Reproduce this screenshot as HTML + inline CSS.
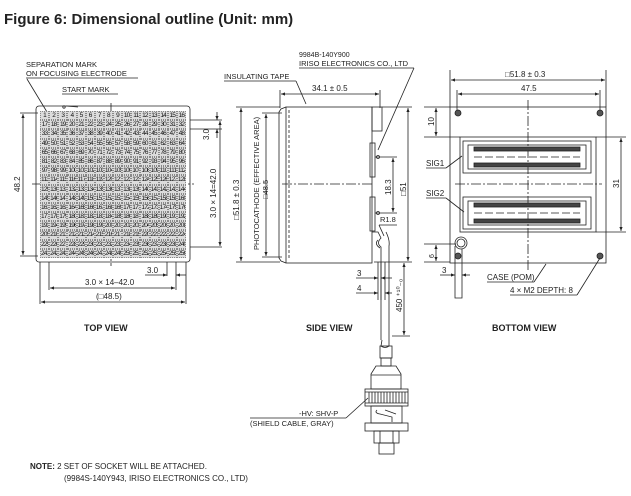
<!DOCTYPE html>
<html><head><meta charset="utf-8"><style>
body{margin:0;background:#fff;width:631px;height:496px;overflow:hidden;position:relative;font-family:"Liberation Sans",Arial,sans-serif}
svg{position:absolute;left:0;top:0}
svg text{font-family:"Liberation Sans",Arial,sans-serif;fill:#222}
#grid{position:absolute;left:40px;top:111px;width:146px;height:147px;display:grid;grid-template-columns:repeat(16,1fr);grid-template-rows:repeat(16,1fr);background:#dcdcdc}
#grid span{border:0.5px dotted #888;font-size:6.5px;line-height:8.5px;text-align:center;color:#111;letter-spacing:-0.8px;overflow:hidden;white-space:nowrap}
</style></head><body>
<svg width="631" height="496" viewBox="0 0 631 496" stroke="#222" fill="none" stroke-width="0.8">
<defs><marker id="a" markerWidth="6" markerHeight="6" refX="5" refY="3" orient="auto-start-reverse"><path d="M0,1 L5,3 L0,5z" fill="#222" stroke="none"/></marker></defs>
<text x="4" y="24" font-size="15" font-weight="bold" stroke="none">Figure 6: Dimensional outline (Unit: mm)</text>

<!-- TOP VIEW -->
<text x="26" y="67" font-size="7.5" stroke="none">SEPARATION MARK</text>
<text x="26" y="76" font-size="7.5" stroke="none">ON FOCUSING ELECTRODE</text>
<line x1="26" y1="78" x2="138" y2="78"/>
<line x1="27" y1="79" x2="47" y2="112"/>
<text x="62" y="92" font-size="7.5" stroke="none">START MARK</text>
<line x1="62" y1="94" x2="118" y2="94"/>
<line x1="66" y1="106" x2="78" y2="107"/><circle cx="64" cy="107" r="1.2"/>
<rect x="36" y="106" width="154" height="156" rx="3"/>
<line x1="111" y1="103" x2="111" y2="266" stroke-dasharray="10,2,2,2"/>
<line x1="32" y1="184" x2="194" y2="184" stroke-dasharray="10,2,2,2"/>
<line x1="20" y1="113" x2="38" y2="113"/><line x1="20" y1="256" x2="38" y2="256"/>
<line x1="23" y1="114" x2="23" y2="255" marker-start="url(#a)" marker-end="url(#a)"/>
<text transform="translate(20,192) rotate(-90)" font-size="8" stroke="none">48.2</text>
<line x1="190" y1="120" x2="222" y2="120"/><line x1="190" y1="129" x2="222" y2="129"/><line x1="190" y1="247" x2="222" y2="247"/>
<line x1="217" y1="112" x2="217" y2="120" marker-end="url(#a)"/><line x1="217" y1="138" x2="217" y2="129" marker-end="url(#a)"/>
<text transform="translate(209,140) rotate(-90)" font-size="8" stroke="none">3.0</text>
<line x1="220" y1="121" x2="220" y2="246" marker-start="url(#a)" marker-end="url(#a)"/>
<text transform="translate(216,218) rotate(-90)" font-size="8" stroke="none">3.0 × 14=42.0</text>
<line x1="49" y1="262" x2="49" y2="290"/><line x1="176" y1="262" x2="176" y2="290"/><line x1="167" y1="262" x2="167" y2="276"/>
<line x1="40" y1="262" x2="40" y2="304"/><line x1="186" y1="262" x2="186" y2="304"/>
<text x="147" y="273" font-size="8" stroke="none">3.0</text>
<line x1="145" y1="275" x2="167" y2="275" marker-end="url(#a)"/><line x1="186" y1="275" x2="176" y2="275" marker-end="url(#a)"/>
<line x1="50" y1="288" x2="175" y2="288" marker-start="url(#a)" marker-end="url(#a)"/>
<text x="85" y="285" font-size="8" stroke="none">3.0 × 14–42.0</text>
<text x="96" y="299" font-size="8" stroke="none">(□48.5)</text>
<line x1="41" y1="302" x2="185" y2="302" marker-start="url(#a)" marker-end="url(#a)"/>
<text x="84" y="331" font-size="9" font-weight="bold" stroke="none">TOP VIEW</text>

<!-- SIDE VIEW -->
<text x="299" y="57" font-size="7" stroke="none">9984B-140Y900</text>
<text x="299" y="66" font-size="7.5" stroke="none">IRISO ELECTRONICS CO., LTD</text>
<line x1="299" y1="68" x2="414" y2="68"/><line x1="414" y1="68" x2="378" y2="150"/>
<text x="224" y="79" font-size="7.5" stroke="none">INSULATING TAPE</text>
<line x1="224" y1="81" x2="296" y2="81"/><line x1="296" y1="81" x2="306" y2="104"/>
<line x1="280" y1="90" x2="280" y2="108"/><line x1="380" y1="90" x2="380" y2="108"/>
<line x1="281" y1="94" x2="379" y2="94" marker-start="url(#a)" marker-end="url(#a)"/>
<text x="312" y="91" font-size="8" stroke="none">34.1 ± 0.5</text>
<rect x="286" y="107" width="86" height="156"/>
<path d="M286,107 L281,109 L279,112 L279,258 L281,261 L286,263"/>
<line x1="289" y1="110" x2="289" y2="260" stroke-dasharray="3,2"/>
<line x1="282" y1="184" x2="372" y2="184" stroke-dasharray="10,2,2,2"/>
<rect x="372" y="107" width="10" height="24"/>
<rect x="370" y="143" width="5" height="34"/><rect x="370" y="197" width="5" height="34"/>
<line x1="375" y1="157" x2="397" y2="157"/><line x1="375" y1="213" x2="397" y2="213"/>
<circle cx="378" cy="157" r="1.5"/><circle cx="378" cy="213" r="1.5"/>
<line x1="393" y1="158" x2="393" y2="212" marker-start="url(#a)" marker-end="url(#a)"/>
<text transform="translate(391,195) rotate(-90)" font-size="8" stroke="none">18.3</text>
<line x1="382" y1="107" x2="412" y2="107"/><line x1="374" y1="262" x2="412" y2="262"/>
<line x1="408" y1="108" x2="408" y2="261" marker-start="url(#a)" marker-end="url(#a)"/>
<text transform="translate(406,196) rotate(-90)" font-size="8" stroke="none">□51</text>
<text x="380" y="222" font-size="7.5" stroke="none">R1.8</text>
<line x1="379" y1="225" x2="397" y2="225"/><line x1="379" y1="225" x2="384" y2="236"/>
<path d="M372,232 L378,232 L381,238 Q376,243 381,247 L381,340 M386,232 Q390,240 389,246 L389,340"/>
<path d="M378,240 Q374,244 380,248"/>
<line x1="236" y1="107" x2="280" y2="107"/><line x1="236" y1="262" x2="280" y2="262"/>
<line x1="241" y1="108" x2="241" y2="261" marker-start="url(#a)" marker-end="url(#a)"/>
<text transform="translate(239,220) rotate(-90)" font-size="8" stroke="none">□51.8 ± 0.3</text>
<line x1="262" y1="113" x2="282" y2="113"/><line x1="262" y1="257" x2="282" y2="257"/>
<line x1="266" y1="114" x2="266" y2="256" marker-start="url(#a)" marker-end="url(#a)"/>
<text transform="translate(259,250) rotate(-90)" font-size="7.5" stroke="none">PHOTOCATHODE (EFFECTIVE AREA)</text>
<text transform="translate(268,199) rotate(-90)" font-size="7.5" stroke="none">□48.5</text>
<line x1="378" y1="262" x2="378" y2="300"/><line x1="381" y1="262" x2="381" y2="300"/><line x1="385" y1="262" x2="385" y2="300"/>
<text x="357" y="276" font-size="8" stroke="none">3</text>
<line x1="356" y1="278" x2="378" y2="278" marker-end="url(#a)"/><line x1="392" y1="278" x2="381" y2="278" marker-end="url(#a)"/>
<text x="357" y="291" font-size="8" stroke="none">4</text>
<line x1="356" y1="293" x2="378" y2="293" marker-end="url(#a)"/><line x1="392" y1="293" x2="385" y2="293" marker-end="url(#a)"/>
<line x1="404" y1="263" x2="404" y2="335" marker-start="url(#a)" marker-end="url(#a)"/><line x1="392" y1="336" x2="410" y2="336"/>
<text transform="translate(402,312) rotate(-90)" font-size="8" stroke="none">450 ⁺¹⁰₋₀</text>
<text x="306" y="331" font-size="9" font-weight="bold" stroke="none">SIDE VIEW</text>
<path d="M382,340 L381,346 Q385,349 389,346 L389,340"/>
<rect x="380" y="346" width="12" height="12"/><rect x="381" y="358" width="10" height="8"/>
<path d="M376,366 L396,366 L401,374 L401,389 L371,389 L371,374 Z"/><line x1="371" y1="375" x2="401" y2="375"/>
<rect x="365" y="389" width="43" height="17"/>
<path d="M369,392 v11 M372,392 v11 M375,392 v11 M378,392 v11 M381,392 v11 M384,392 v11 M387,392 v11 M390,392 v11 M393,392 v11 M396,392 v11 M399,392 v11 M402,392 v11 M405,392 v11"/>
<line x1="365" y1="392" x2="408" y2="392"/><line x1="365" y1="403" x2="408" y2="403"/>
<rect x="371" y="406" width="31" height="17"/>
<path d="M377,410 Q374,413 380,414 L392,417 L392,422 M385,410 L396,414"/>
<rect x="365" y="423" width="43" height="8"/>
<rect x="374" y="431" width="25" height="12"/><rect x="379" y="443" width="15" height="11"/>
<line x1="380" y1="431" x2="380" y2="443"/><line x1="393" y1="431" x2="393" y2="443"/>
<text x="299" y="416" font-size="7.5" stroke="none">-HV: SHV-P</text>
<text x="250" y="426" font-size="7.5" stroke="none">(SHIELD CABLE, GRAY)</text>
<line x1="250" y1="418" x2="346" y2="418"/><line x1="346" y1="418" x2="368" y2="398"/>

<!-- BOTTOM VIEW -->
<line x1="450" y1="70" x2="450" y2="107"/><line x1="606" y1="70" x2="606" y2="107"/>
<line x1="451" y1="80" x2="605" y2="80" marker-start="url(#a)" marker-end="url(#a)"/>
<text x="505" y="77" font-size="8" stroke="none">□51.8 ± 0.3</text>
<line x1="457" y1="90" x2="457" y2="112"/><line x1="600" y1="90" x2="600" y2="112"/>
<line x1="458" y1="94" x2="599" y2="94" marker-start="url(#a)" marker-end="url(#a)"/>
<text x="521" y="91" font-size="8" stroke="none">47.5</text>
<rect x="450" y="107" width="156" height="156"/>
<line x1="528" y1="100" x2="528" y2="270" stroke-dasharray="10,2,2,2"/>
<line x1="455" y1="184" x2="602" y2="184" stroke-dasharray="10,2,2,2"/>
<g fill="#555"><circle cx="458" cy="113" r="3"/><circle cx="600" cy="113" r="3"/><circle cx="600" cy="256" r="3"/><circle cx="458" cy="256" r="3"/></g>
<rect x="460" y="137" width="136" height="95"/>
<rect x="463" y="141" width="128" height="32"/><rect x="463" y="197" width="128" height="32"/>
<rect x="468" y="145" width="118" height="24"/><rect x="468" y="201" width="118" height="24"/>
<rect x="474" y="147" width="106" height="4" fill="#444"/><rect x="474" y="163" width="106" height="4" fill="#444"/>
<rect x="474" y="203" width="106" height="4" fill="#444"/><rect x="474" y="219" width="106" height="4" fill="#444"/>
<line x1="474" y1="157" x2="580" y2="157" stroke-dasharray="8,3"/><line x1="474" y1="213" x2="580" y2="213" stroke-dasharray="8,3"/>
<line x1="424" y1="107" x2="450" y2="107"/><line x1="424" y1="137" x2="460" y2="137"/>
<line x1="436" y1="108" x2="436" y2="136" marker-start="url(#a)" marker-end="url(#a)"/>
<text transform="translate(434,126) rotate(-90)" font-size="8" stroke="none">10</text>
<line x1="596" y1="137" x2="626" y2="137"/><line x1="596" y1="232" x2="626" y2="232"/>
<line x1="621" y1="138" x2="621" y2="231" marker-start="url(#a)" marker-end="url(#a)"/>
<text transform="translate(619,188) rotate(-90)" font-size="8" stroke="none">31</text>
<text x="426" y="166" font-size="8" stroke="none">SIG1</text><line x1="426" y1="168" x2="446" y2="168"/><line x1="446" y1="168" x2="462" y2="156"/>
<text x="426" y="196" font-size="8" stroke="none">SIG2</text><line x1="426" y1="198" x2="446" y2="198"/><line x1="446" y1="198" x2="464" y2="212"/>
<circle cx="461" cy="243" r="6"/><circle cx="461" cy="243" r="4"/>
<path d="M455,246 L455,298 L462,298 L462,249"/>
<line x1="424" y1="244" x2="456" y2="244"/><line x1="424" y1="262" x2="450" y2="262"/>
<line x1="436" y1="245" x2="436" y2="261" marker-start="url(#a)" marker-end="url(#a)"/>
<text transform="translate(434,258) rotate(-90)" font-size="7" stroke="none">6</text>
<text x="442" y="273" font-size="8" stroke="none">3</text>
<line x1="440" y1="275" x2="455" y2="275" marker-end="url(#a)"/><line x1="470" y1="275" x2="462" y2="275" marker-end="url(#a)"/>
<text x="487" y="280" font-size="8" stroke="none">CASE (POM)</text><line x1="487" y1="282" x2="534" y2="282"/><line x1="534" y1="282" x2="546" y2="264"/>
<text x="510" y="293" font-size="8" stroke="none">4 × M2 DEPTH: 8</text><line x1="510" y1="295" x2="577" y2="295"/><line x1="577" y1="295" x2="600" y2="258"/>
<text x="492" y="331" font-size="9" font-weight="bold" stroke="none">BOTTOM VIEW</text>

<text x="30" y="469" font-size="8" stroke="none"><tspan font-weight="bold">NOTE:</tspan> 2 SET OF SOCKET WILL BE ATTACHED.</text>
<text x="64" y="481" font-size="8" stroke="none">(9984S-140Y943, IRISO ELECTRONICS CO., LTD)</text>
</svg>
<div id="grid">
<span>1</span><span>2</span><span>3</span><span>4</span><span>5</span><span>6</span><span>7</span><span>8</span><span>9</span><span>10</span><span>11</span><span>12</span><span>13</span><span>14</span><span>15</span><span>16</span>
<span>17</span><span>18</span><span>19</span><span>20</span><span>21</span><span>22</span><span>23</span><span>24</span><span>25</span><span>26</span><span>27</span><span>28</span><span>29</span><span>30</span><span>31</span><span>32</span>
<span>33</span><span>34</span><span>35</span><span>36</span><span>37</span><span>38</span><span>39</span><span>40</span><span>41</span><span>42</span><span>43</span><span>44</span><span>45</span><span>46</span><span>47</span><span>48</span>
<span>49</span><span>50</span><span>51</span><span>52</span><span>53</span><span>54</span><span>55</span><span>56</span><span>57</span><span>58</span><span>59</span><span>60</span><span>61</span><span>62</span><span>63</span><span>64</span>
<span>65</span><span>66</span><span>67</span><span>68</span><span>69</span><span>70</span><span>71</span><span>72</span><span>73</span><span>74</span><span>75</span><span>76</span><span>77</span><span>78</span><span>79</span><span>80</span>
<span>81</span><span>82</span><span>83</span><span>84</span><span>85</span><span>86</span><span>87</span><span>88</span><span>89</span><span>90</span><span>91</span><span>92</span><span>93</span><span>94</span><span>95</span><span>96</span>
<span>97</span><span>98</span><span>99</span><span>100</span><span>101</span><span>102</span><span>103</span><span>104</span><span>105</span><span>106</span><span>107</span><span>108</span><span>109</span><span>110</span><span>111</span><span>112</span>
<span>113</span><span>114</span><span>115</span><span>116</span><span>117</span><span>118</span><span>119</span><span>120</span><span>121</span><span>122</span><span>123</span><span>124</span><span>125</span><span>126</span><span>127</span><span>128</span>
<span>129</span><span>130</span><span>131</span><span>132</span><span>133</span><span>134</span><span>135</span><span>136</span><span>137</span><span>138</span><span>139</span><span>140</span><span>141</span><span>142</span><span>143</span><span>144</span>
<span>145</span><span>146</span><span>147</span><span>148</span><span>149</span><span>150</span><span>151</span><span>152</span><span>153</span><span>154</span><span>155</span><span>156</span><span>157</span><span>158</span><span>159</span><span>160</span>
<span>161</span><span>162</span><span>163</span><span>164</span><span>165</span><span>166</span><span>167</span><span>168</span><span>169</span><span>170</span><span>171</span><span>172</span><span>173</span><span>174</span><span>175</span><span>176</span>
<span>177</span><span>178</span><span>179</span><span>180</span><span>181</span><span>182</span><span>183</span><span>184</span><span>185</span><span>186</span><span>187</span><span>188</span><span>189</span><span>190</span><span>191</span><span>192</span>
<span>193</span><span>194</span><span>195</span><span>196</span><span>197</span><span>198</span><span>199</span><span>200</span><span>201</span><span>202</span><span>203</span><span>204</span><span>205</span><span>206</span><span>207</span><span>208</span>
<span>209</span><span>210</span><span>211</span><span>212</span><span>213</span><span>214</span><span>215</span><span>216</span><span>217</span><span>218</span><span>219</span><span>220</span><span>221</span><span>222</span><span>223</span><span>224</span>
<span>225</span><span>226</span><span>227</span><span>228</span><span>229</span><span>230</span><span>231</span><span>232</span><span>233</span><span>234</span><span>235</span><span>236</span><span>237</span><span>238</span><span>239</span><span>240</span>
<span>241</span><span>242</span><span>243</span><span>244</span><span>245</span><span>246</span><span>247</span><span>248</span><span>249</span><span>250</span><span>251</span><span>252</span><span>253</span><span>254</span><span>255</span><span>256</span>
</div>
</body></html>
